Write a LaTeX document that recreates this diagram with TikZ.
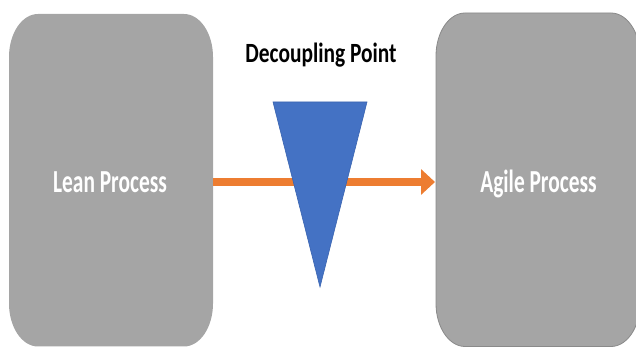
\documentclass[tikz,border=0pt]{standalone}
\usepackage{fontspec}
\setmainfont{Carlito}
\usetikzlibrary{arrows.meta}
\definecolor{boxgray}{HTML}{A5A5A5}
\definecolor{boxedge}{HTML}{8A8A8A}
\definecolor{flow}{HTML}{ED7D31}
\definecolor{dpblue}{HTML}{4472C4}
\definecolor{dpedge}{HTML}{3A64B0}
\tikzset{
  procbox/.style={inner sep=0pt, minimum width=204pt, minimum height=332.5pt, anchor=south west},
  proctext/.style={inner sep=0pt, anchor=base, text=white, font=\fontsize{21.4}{24}\selectfont\bfseries},
  titletext/.style={inner sep=0pt, anchor=base, text=black, font=\fontsize{21.4}{24}\selectfont\bfseries},
  flowarrow/.style={draw=flow, line width=8pt, -{Triangle[length=14pt,width=25pt]}},
}
\newcommand\ellbox[5]{% x1 y1 x2 y2 style
  \path[#5] (#1+29,#2) -- (#3-29,#2) arc[start angle=270,end angle=360,x radius=29,y radius=43]
    -- (#3,#4-43) arc[start angle=0,end angle=90,x radius=29,y radius=43]
    -- (#1+29,#4) arc[start angle=90,end angle=180,x radius=29,y radius=43]
    -- (#1,#2+43) arc[start angle=180,end angle=270,x radius=29,y radius=43] -- cycle;}
\begin{document}
\begin{tikzpicture}[x=1pt,y=1pt]
\useasboundingbox (0,0) rectangle (636,347);
\ellbox{9}{0.5}{213}{333}{fill=boxgray}
\ellbox{436}{0.5}{640}{334}{fill=boxgray, draw=boxedge, line width=0.8pt}
\node[procbox] (lean) at (9,0.5) {};
\node[procbox] (agile) at (436,0.5) {};
\node[proctext] (leantxt) at (110,154) {\scalebox{1}[1.5]{Lean Process}};
\node[proctext] (agiletxt) at (538.5,154) {\scalebox{1}[1.5]{Agile Process}};
\node[titletext] (title) at (321,284) {\scalebox{1}[1.3]{Decoupling Point}};
\coordinate (a1) at (lean.east |- 0,165);
\coordinate (a2) at (agile.west |- 0,165);
\draw[flowarrow] (a1) -- ([xshift=-1pt]a2);
\draw[fill=dpblue, draw=dpedge, line width=0.6pt] (273,245) -- (367,245) -- (320,60) -- cycle;
\end{tikzpicture}
\end{document}
